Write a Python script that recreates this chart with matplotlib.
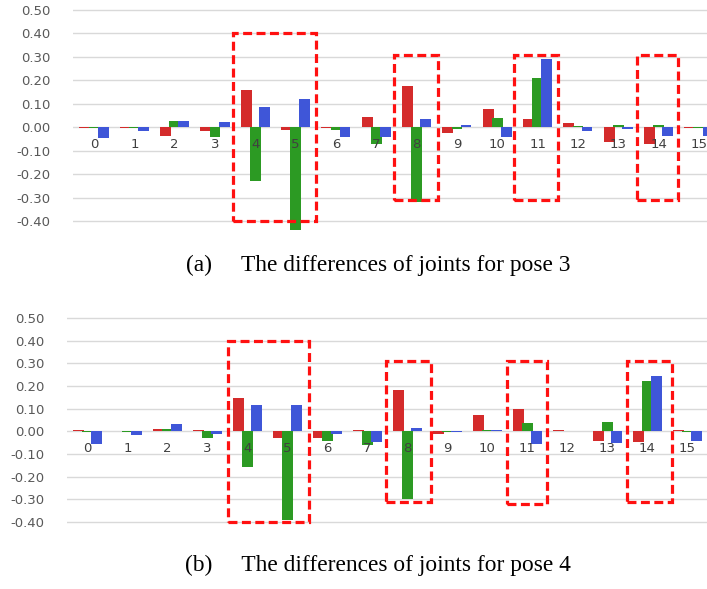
"""Joint differences for pose 3 and pose 4, grouped bars per joint."""
import matplotlib.pyplot as plt
import numpy as np
from matplotlib.patches import Rectangle

JOINTS = [str(i) for i in range(16)]
Y_TICKS = [-0.40, -0.30, -0.20, -0.10, 0.00, 0.10, 0.20, 0.30, 0.40, 0.50]

# pose 3
POSE3_RED = [-0.005, -0.003, -0.037, -0.015, 0.160, -0.011, -0.004, 0.043,
             0.177, -0.024, 0.079, 0.034, 0.017, -0.063, -0.073, -0.003]
POSE3_GREEN = [-0.005, -0.003, 0.026, -0.041, -0.231, -0.440, -0.013, -0.073,
               -0.320, -0.007, 0.039, 0.211, 0.006, 0.009, 0.009, -0.004]
POSE3_BLUE = [-0.046, -0.016, 0.026, 0.021, 0.086, 0.121, -0.041, -0.041,
              0.034, 0.009, -0.041, 0.290, -0.016, -0.007, -0.039, -0.039]

# pose 4
POSE4_RED = [0.007, 0.003, 0.012, 0.004, 0.145, -0.030, -0.030, 0.008,
             0.184, -0.010, 0.071, 0.100, 0.006, -0.043, -0.046, 0.004]
POSE4_GREEN = [-0.005, -0.005, 0.010, -0.031, -0.157, -0.393, -0.044, -0.062,
               -0.300, -0.005, 0.004, 0.036, 0.003, 0.043, 0.222, -0.005]
POSE4_BLUE = [-0.058, -0.018, 0.033, -0.013, 0.114, 0.114, -0.013, -0.046,
              0.015, -0.005, 0.004, -0.055, 0.003, -0.052, 0.244, -0.041]

CAPTION_A = "(a)     The differences of joints for pose 3"
CAPTION_B = "(b)     The differences of joints for pose 4"

COLORS = ["#d42b2b", "#2c9a23", "#3f56d8"]
BAR_W = 0.27
OFFSET = 0.225

# highlight boxes: (x0, x1, y0, y1) in data units
BOXES_A = [(3.45, 5.51, -0.40, 0.40), (7.44, 8.54, -0.31, 0.31),
           (10.42, 11.51, -0.31, 0.31), (13.47, 14.49, -0.31, 0.31)]
BOXES_B = [(3.51, 5.54, -0.40, 0.40), (7.46, 8.59, -0.31, 0.31),
           (10.49, 11.49, -0.32, 0.31), (13.49, 14.61, -0.31, 0.31)]


def draw_panel(ax, series, boxes, xlim):
    x = np.arange(len(JOINTS))
    ax.set_axisbelow(True)
    for k, (vals, color) in enumerate(zip(series, COLORS)):
        ax.bar(x + (k - 1) * OFFSET, vals, width=BAR_W, color=color,
               linewidth=0, zorder=2)

    ax.set_xlim(*xlim)
    ax.set_ylim(-0.46, 0.505)
    ax.set_yticks(Y_TICKS)
    ax.set_yticklabels([f"{v:.2f}" for v in Y_TICKS])
    ax.yaxis.grid(True, color="#d9d9d9", linewidth=1)
    ax.tick_params(axis="y", length=0, pad=16, labelsize=9.5,
                   labelcolor="#595959")

    ax.set_xticks(x)
    ax.set_xticklabels(JOINTS)
    ax.spines["bottom"].set_position(("data", 0))
    ax.tick_params(axis="x", length=0, pad=8, labelsize=9.5,
                   labelcolor="#404040")
    ax.xaxis.set_zorder(3)
    for s in ax.spines.values():
        s.set_visible(False)

    for x0, x1, y0, y1 in boxes:
        ax.add_patch(Rectangle((x0, y0), x1 - x0, y1 - y0, fill=False,
                               edgecolor="#ff1010", linewidth=2.3,
                               linestyle=(0, (2.8, 1.4)), zorder=4,
                               clip_on=False))


fig = plt.figure(figsize=(7.07, 5.89), dpi=100)
ax_a = fig.add_axes([0.1033, 0.601, 0.8967, 0.384])
ax_b = fig.add_axes([0.0948, 0.0907, 0.9052, 0.3713])

draw_panel(ax_a, [POSE3_RED, POSE3_GREEN, POSE3_BLUE], BOXES_A, (-0.52, 15.2))
draw_panel(ax_b, [POSE4_RED, POSE4_GREEN, POSE4_BLUE], BOXES_B, (-0.51, 15.49))

fig.text(378 / 707, 1 - 265 / 589, CAPTION_A, ha="center", va="center",
         family="Liberation Serif", fontsize=16.8, color="black")
fig.text(378 / 707, 1 - 565 / 589, CAPTION_B, ha="center", va="center",
         family="Liberation Serif", fontsize=16.8, color="black")

fig.savefig("out.png", dpi=100)
